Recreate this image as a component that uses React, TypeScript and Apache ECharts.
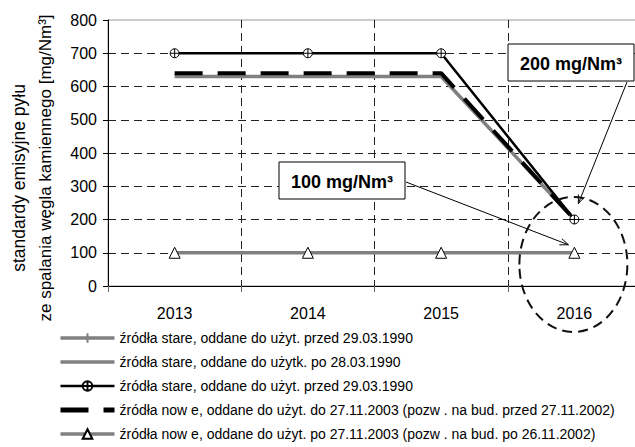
import React, { useEffect, useRef } from 'react';
import * as echarts from 'echarts';

const years = ['2013', '2014', '2015', '2016'];
const yMin = 0;
const yMax = 800;
const yStep = 100;

const seriesNames = [
  'źródła stare, oddane do użyt. przed 29.03.1990',
  'źródła stare, oddane do użytk. po 28.03.1990',
  'źródła stare, oddane do użyt. przed 29.03.1990 ',
  'źródła now e, oddane do użyt. do 27.11.2003 (pozw . na bud. przed 27.11.2002)',
  'źródła now e, oddane do użyt. po 27.11.2003 (pozw . na bud. po 26.11.2002)',
];

const oldBefore1990Plus: (number | null)[] = [null, null, null, null];
const oldAfter1990 = [630, 630, 630, 200];
const oldBefore1990 = [700, 700, 700, 200];
const newBefore2003 = [640, 640, 640, 200];
const newAfter2003 = [100, 100, 100, 100];

const yTitleLine1 = 'standardy emisyjne pyłu';
const yTitleLine2 = 'ze spalania węgla kamiennego [mg/Nm³]';
const note200 = '200 mg/Nm³';
const note100 = '100 mg/Nm³';

const FONT = '"Liberation Sans", Arial, sans-serif';
const GRAY = '#808080';

const plusPath = 'path://M0,-5L0,5M-5,0L5,0';
const circleCrossPath =
  'path://M0,-4A4,4,0,1,1,0,4A4,4,0,1,1,0,-4ZM0,-4L0,4M-4,0L4,0';
const DASH4 = [28, 15];

function arrow(x1: number, y1: number, x2: number, y2: number) {
  const a = Math.atan2(y2 - y1, x2 - x1);
  const L = 9;
  const s = 0.38;
  return {
    type: 'group',
    z: 100,
    children: [
      {
        type: 'line',
        shape: { x1, y1, x2, y2 },
        style: { stroke: '#000', lineWidth: 1 },
      },
      {
        type: 'polyline',
        shape: {
          points: [
            [x2 - L * Math.cos(a - s), y2 - L * Math.sin(a - s)],
            [x2, y2],
            [x2 - L * Math.cos(a + s), y2 - L * Math.sin(a + s)],
          ],
        },
        style: { stroke: '#000', lineWidth: 1, fill: 'none' },
      },
    ],
  };
}

function noteBox(x: number, y: number, w: number, h: number, text: string) {
  return {
    type: 'group',
    z: 100,
    children: [
      {
        type: 'rect',
        shape: { x, y, width: w, height: h },
        style: { fill: '#fff', stroke: '#000', lineWidth: 1 },
      },
      {
        type: 'text',
        x: x + w / 2,
        y: y + h / 2 + 1,
        style: {
          text,
          fill: '#000',
          font: `bold 18px ${FONT}`,
          align: 'center',
          verticalAlign: 'middle',
        },
      },
    ],
  };
}

export default function App() {
  const ref = useRef<HTMLDivElement>(null);

  useEffect(() => {
    if (!ref.current) return;
    const chart = echarts.init(ref.current, undefined, { renderer: 'svg' });

    const option: any = {
      animation: false,
      backgroundColor: '#fff',
      textStyle: { fontFamily: FONT },
      grid: {
        left: 108,
        top: 20,
        width: 533,
        height: 266,
        outerBoundsMode: 'none',
        containLabel: false,
        show: true,
        borderColor: '#999',
        borderWidth: 1,
        backgroundColor: 'transparent',
      },
      legend: {
        orient: 'vertical',
        left: 58,
        top: 331,
        padding: 0,
        itemGap: 10,
        itemWidth: 54,
        itemHeight: 12,
        textStyle: { fontSize: 14, color: '#000', fontFamily: FONT },
        data: [
          {
            name: seriesNames[0],
            lineStyle: { color: GRAY, width: 3.5 },
          },
          {
            name: seriesNames[1],
            lineStyle: { color: GRAY, width: 3.5 },
            itemStyle: { opacity: 0 },
          },
          {
            name: seriesNames[2],
            lineStyle: { color: '#000', width: 2.5 },
          },
          {
            name: seriesNames[3],
            lineStyle: { color: '#000', width: 5, type: DASH4 },
            itemStyle: { opacity: 0 },
          },
          {
            name: seriesNames[4],
            lineStyle: { color: GRAY, width: 3.5 },
          },
        ],
      },
      xAxis: {
        type: 'category',
        data: years,
        boundaryGap: true,
        axisLine: { lineStyle: { color: '#000', width: 1 } },
        axisTick: { show: true, length: 6, lineStyle: { color: '#666' } },
        axisLabel: { fontSize: 16, color: '#000', margin: 19, fontFamily: FONT },
        splitLine: {
          show: true,
          showMinLine: false,
          lineStyle: { color: '#222', type: [8, 5], width: 1 },
        },
      },
      yAxis: {
        type: 'value',
        min: yMin,
        max: yMax,
        interval: yStep,
        axisLine: { show: true, lineStyle: { color: '#000', width: 1 } },
        axisTick: { show: true, length: 5, lineStyle: { color: '#000' } },
        axisLabel: { fontSize: 16, color: '#000', margin: 11, fontFamily: FONT },
        splitLine: {
          show: true,
          showMinLine: false,
          showMaxLine: false,
          lineStyle: { color: '#222', type: [8, 5], width: 1 },
        },
      },
      series: [
        {
          name: seriesNames[0],
          type: 'line',
          data: oldBefore1990Plus,
          symbol: plusPath,
          symbolSize: 9,
          lineStyle: { color: GRAY, width: 3.5 },
          itemStyle: { color: GRAY, borderColor: GRAY, borderWidth: 1 },
        },
        {
          name: seriesNames[1],
          type: 'line',
          data: oldAfter1990,
          symbol: 'none',
          lineStyle: { color: GRAY, width: 3.5 },
          itemStyle: { color: GRAY },
        },
        {
          name: seriesNames[2],
          type: 'line',
          data: oldBefore1990,
          symbol: circleCrossPath,
          symbolSize: 9,
          showSymbol: true,
          lineStyle: { color: '#000', width: 2.5 },
          itemStyle: { color: '#fff', borderColor: '#000', borderWidth: 1 },
        },
        {
          name: seriesNames[3],
          type: 'line',
          data: newBefore2003,
          symbol: 'none',
          lineStyle: { color: '#000', width: 4, type: DASH4 },
          itemStyle: { color: '#000' },
        },
        {
          name: seriesNames[4],
          type: 'line',
          data: newAfter2003,
          symbol: 'triangle',
          symbolSize: 11,
          showSymbol: true,
          lineStyle: { color: GRAY, width: 3.5 },
          itemStyle: { color: '#fff', borderColor: '#000', borderWidth: 1 },
        },
      ],
    };

    chart.setOption(option);

    const p200 = chart.convertToPixel({ seriesIndex: 2 }, [3, oldBefore1990[3]]) as number[];
    const p100 = chart.convertToPixel({ seriesIndex: 4 }, [3, newAfter2003[3]]) as number[];

    chart.setOption({
      graphic: [
        {
          type: 'text',
          x: 19,
          y: 178,
          rotation: Math.PI / 2,
          style: {
            text: yTitleLine1,
            fill: '#000',
            font: `17.5px ${FONT}`,
            align: 'center',
            verticalAlign: 'middle',
          },
        },
        {
          type: 'text',
          x: 45,
          y: 168,
          rotation: Math.PI / 2,
          style: {
            text: yTitleLine2,
            fill: '#000',
            font: `17px ${FONT}`,
            align: 'center',
            verticalAlign: 'middle',
          },
        },
        noteBox(508, 44, 126, 37, note200),
        noteBox(279, 162, 126, 37, note100),
        arrow(627, 82, p200[0] + 4, p200[1] - 16),
        arrow(406, 182, p100[0] - 6, p100[1] - 8),
        {
          type: 'ellipse',
          z: 100,
          shape: { cx: p100[0] - 1, cy: 264.5, rx: 54, ry: 67.5 },
          style: { fill: 'none', stroke: '#111', lineWidth: 2, lineDash: [10, 6] },
        },
      ],
    });

    return () => chart.dispose();
  }, []);

  return (
    <div
      ref={ref}
      style={{ position: 'fixed', left: 0, top: 0, width: 635, height: 447 }}
    />
  );
}
